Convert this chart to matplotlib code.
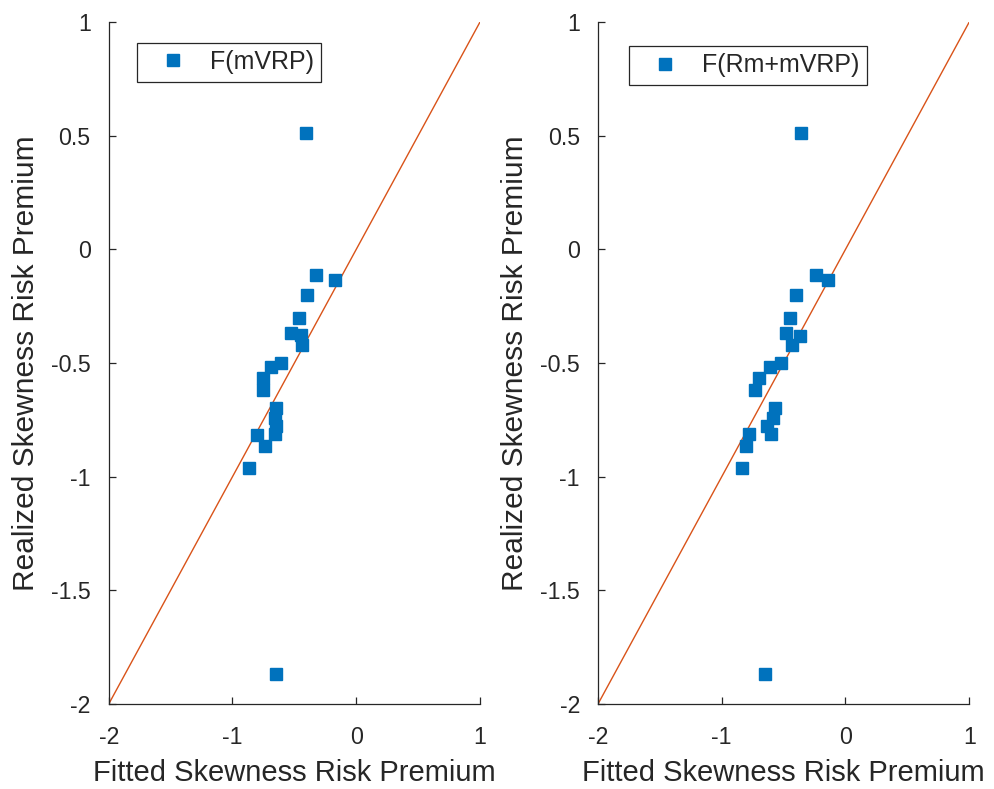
import matplotlib
matplotlib.use("Agg")
import matplotlib.pyplot as plt

# Data
fitted_mvrp = [-0.407, -0.325, -0.168, -0.398, -0.461, -0.528, -0.447, -0.436,
               -0.605, -0.686, -0.754, -0.754, -0.646, -0.660, -0.645, -0.655,
               -0.802, -0.740, -0.867, -0.645]
realized_mvrp = [0.511, -0.113, -0.134, -0.200, -0.301, -0.369, -0.376, -0.420,
                 -0.499, -0.517, -0.565, -0.617, -0.696, -0.740, -0.775, -0.814,
                 -0.815, -0.865, -0.963, -1.868]

fitted_rm = [-0.357, -0.237, -0.143, -0.401, -0.452, -0.484, -0.368, -0.430,
             -0.524, -0.607, -0.699, -0.731, -0.573, -0.586, -0.634, -0.599,
             -0.780, -0.801, -0.833, -0.653]
realized_rm = [0.511, -0.113, -0.134, -0.200, -0.301, -0.369, -0.380, -0.420,
               -0.499, -0.517, -0.565, -0.617, -0.696, -0.740, -0.775, -0.814,
               -0.814, -0.865, -0.963, -1.868]

diag = [-2, 1]
xticks = [-2, -1, 0, 1]
yticks = [-2, -1.5, -1, -0.5, 0, 0.5, 1]
ytick_labels = ["-2", "-1.5", "-1", "-0.5", "0", "0.5", "1"]
xtick_labels = ["-2", "-1", "0", "1"]

plt.rcParams['font.family'] = ['Liberation Sans', 'DejaVu Sans']
TXT = '#262626'
BLUE = '#0072BD'
ORANGE = '#D95319'

fig = plt.figure(figsize=(9.94, 7.89), dpi=100)
panels = [
    (0.1094, fitted_mvrp, realized_mvrp, 'F(mVRP)', (0.138, 0.946)),
    (0.6016, fitted_rm, realized_rm, 'F(Rm+mVRP)', (0.633, 0.942)),
]
for left, fx, ry, lab, anchor in panels:
    ax = fig.add_axes([left, 0.1077, 0.3735, 0.8644])
    ax.plot(diag, diag, color=ORANGE, lw=1.0, zorder=1)
    h, = ax.plot(fx, ry, ls='none', marker='s', ms=8, color=BLUE,
                 mec=BLUE, zorder=2)
    ax.set_xlim(-2, 1)
    ax.set_ylim(-2, 1)
    ax.set_xticks(xticks)
    ax.set_xticklabels(xtick_labels)
    ax.set_yticks(yticks)
    ax.set_yticklabels(ytick_labels)
    for s in ['top', 'right']:
        ax.spines[s].set_visible(False)
    for s in ['left', 'bottom']:
        ax.spines[s].set_color(TXT)
        ax.spines[s].set_linewidth(0.9)
    ax.tick_params(direction='in', length=5, width=0.9, colors=TXT,
                   labelsize=16.7)
    ax.tick_params(axis='x', pad=16)
    ax.tick_params(axis='y', pad=13)
    ax.set_xlabel('Fitted Skewness Risk Premium', fontsize=21, color=TXT,
                  labelpad=7)
    ax.set_ylabel('Realized Skewness Risk Premium', fontsize=21.5, color=TXT,
                  labelpad=8)
    leg = ax.legend([h], [lab], loc='upper left', bbox_to_anchor=anchor,
                    bbox_transform=fig.transFigure, fontsize=18,
                    fancybox=False, framealpha=1, edgecolor=TXT,
                    borderpad=0.3, handlelength=2.3, handletextpad=0.3,
                    borderaxespad=0)
    leg.get_frame().set_linewidth(0.9)
    for t in leg.get_texts():
        t.set_color(TXT)

fig.savefig('out.png', dpi=100)
